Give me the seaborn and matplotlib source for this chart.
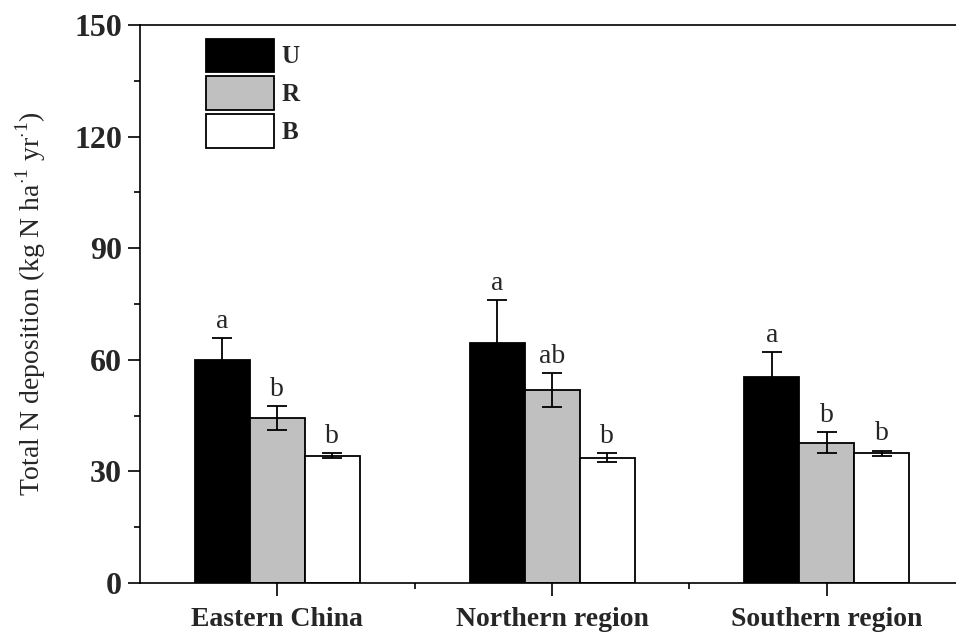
import numpy as np
import pandas as pd
import matplotlib
matplotlib.use("Agg")
import matplotlib.pyplot as plt
from matplotlib.ticker import MultipleLocator, FixedLocator
import seaborn as sns

regions = ["Eastern China", "Northern region", "Southern region"]
site_types = ["U", "R", "B"]
means_U = [59.9, 64.4, 55.3]
means_R = [44.4, 51.9, 37.7]
means_B = [34.2, 33.7, 34.9]
err_U = [6.0, 11.7, 6.7]
err_R = [3.2, 4.6, 2.8]
err_B = [0.7, 1.3, 0.7]
letters_U = ["a", "a", "a"]
letters_R = ["b", "ab", "b"]
letters_B = ["b", "b", "b"]
colors = ["#000000", "#c0c0c0", "#ffffff"]

means = {"U": means_U, "R": means_R, "B": means_B}
errs = {"U": err_U, "R": err_R, "B": err_B}
letters = {"U": letters_U, "R": letters_R, "B": letters_B}

df = pd.DataFrame({
    "region": [r for t in site_types for r in regions],
    "type": [t for t in site_types for r in regions],
    "value": [v for t in site_types for v in means[t]],
})

sns.set_style("ticks")
plt.rcParams["font.family"] = ["Liberation Serif", "DejaVu Serif"]
plt.rcParams["mathtext.fontset"] = "custom"
plt.rcParams["mathtext.rm"] = "Liberation Serif"

fig = plt.figure(figsize=(9.56, 6.41), dpi=100)
ax = fig.add_axes([140 / 956, 1 - 583 / 641, 1 - 140 / 956, (583 - 25) / 641])

sns.barplot(data=df, x="region", y="value", hue="type", order=regions,
            hue_order=site_types, palette=colors, width=0.6,
            edgecolor="black", linewidth=1.3, errorbar=None, ax=ax,
            saturation=1)

for cont, t in zip(ax.containers, site_types):
    xs = [b.get_x() + b.get_width() / 2 for b in cont]
    ax.errorbar(xs, means[t], yerr=errs[t], fmt="none", ecolor="black",
                elinewidth=1.3, capsize=7, capthick=1.3, zorder=5)
    for x, m, e, lab in zip(xs, means[t], errs[t], letters[t]):
        ax.annotate(lab, (x, m + e), xytext=(0, 3), textcoords="offset points",
                    ha="center", va="bottom", fontsize=20)

ax.set_ylim(0, 150)
ax.set_xlim(-0.5, 2.47)
ax.yaxis.set_major_locator(MultipleLocator(30))
ax.yaxis.set_minor_locator(MultipleLocator(15))
ax.xaxis.set_minor_locator(FixedLocator([0.5, 1.5]))

ax.spines["right"].set_visible(False)
for s in ["left", "bottom", "top"]:
    ax.spines[s].set_linewidth(1.2)
    ax.spines[s].set_color("black")

ax.tick_params(axis="both", which="major", direction="out", length=9, width=1.2,
               color="black")
ax.tick_params(axis="both", which="minor", direction="out", length=4.5, width=1.2,
               color="black")
ax.tick_params(axis="y", labelsize=23, pad=4)
ax.tick_params(axis="x", labelsize=20, pad=8)
for lbl in ax.get_xticklabels() + ax.get_yticklabels():
    lbl.set_fontweight("bold")

ax.set_xlabel("")
ax.set_ylabel(r"Total N deposition (kg N ha$^{\cdot 1}$ yr$^{\cdot 1}$)", fontsize=20,
              labelpad=19)

handles, labels = ax.get_legend_handles_labels()
ax.legend(handles, labels, loc="upper left",
          bbox_to_anchor=(193 / 956, 1 - 26 / 641), bbox_transform=fig.transFigure,
          frameon=False, borderpad=0, handlelength=2.75, handleheight=1.68,
          labelspacing=0.18, handletextpad=0.3, prop={"size": 18, "weight": "bold"})

fig.savefig("out.png", dpi=100)
